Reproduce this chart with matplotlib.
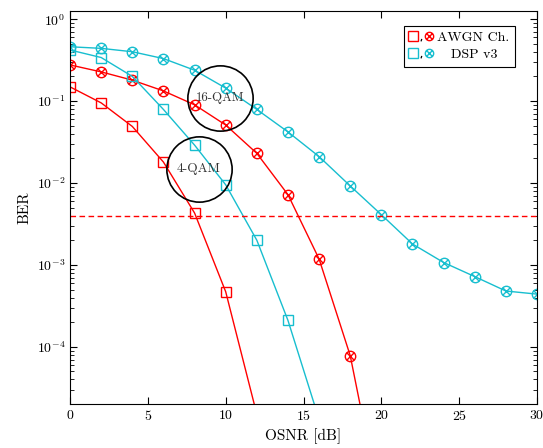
import numpy as np
import matplotlib
matplotlib.use('Agg')
import matplotlib.pyplot as plt
from matplotlib.path import Path
from matplotlib.legend_handler import HandlerTuple
from matplotlib.lines import Line2D

plt.rcParams['font.family'] = 'cmr10'
plt.rcParams['mathtext.fontset'] = 'cm'
plt.rcParams['axes.formatter.use_mathtext'] = True

# data
osnr = [0, 2, 4, 6, 8, 10, 12, 14, 16, 18, 20, 22, 24, 26, 28, 30]

awgn_4qam_x = [0, 2, 4, 6, 8, 10, 12]
awgn_4qam = [0.149, 0.095, 0.049, 0.018, 0.0043, 4.7e-4, 1.5e-5]

awgn_16qam_x = [0, 2, 4, 6, 8, 10, 12, 14, 16, 18, 20]
awgn_16qam = [0.276, 0.227, 0.18, 0.133, 0.09, 0.051, 0.023, 0.0072, 1.18e-3, 7.8e-5, 1e-6]

dsp_4qam_x = [0, 2, 4, 6, 8, 10, 12, 14, 16]
dsp_4qam = [0.42, 0.34, 0.2, 0.079, 0.029, 0.0095, 0.002, 2.1e-4, 1.3e-5]

dsp_16qam = [0.46, 0.44, 0.40, 0.33, 0.238, 0.144, 0.079, 0.042, 0.021, 0.0092,
             0.0041, 0.0018, 1.07e-3, 7.2e-4, 4.8e-4, 4.4e-4]

fec_limit = 4e-3

red = '#ff0000'
cyan = '#17becf'

# circle with an x inside
_c = Path.unit_circle()
_d = 0.7071
otimes = Path.make_compound_path(
    _c,
    Path([(-_d, -_d), (_d, _d)], [Path.MOVETO, Path.LINETO]),
    Path([(-_d, _d), (_d, -_d)], [Path.MOVETO, Path.LINETO]),
)
# little comma sitting on the baseline
comma_path = Path([(0.06, -0.5), (-0.1, -1.0)], [Path.MOVETO, Path.LINETO])

fig = plt.figure(figsize=(5.43, 4.48), dpi=100)
ax = fig.add_axes([0.129, 0.098, 0.860, 0.877])

mk = dict(markersize=7.5, markerfacecolor='none', markeredgewidth=1.0, linewidth=1.0)
ax.plot(awgn_4qam_x, awgn_4qam, color=red, marker='s', **mk)
ax.plot(awgn_16qam_x, awgn_16qam, color=red, marker=otimes, **mk)
ax.plot(dsp_4qam_x, dsp_4qam, color=cyan, marker='s', **mk)
ax.plot(osnr, dsp_16qam, color=cyan, marker=otimes, **mk)

ax.axhline(fec_limit, color=red, linestyle='--', linewidth=1.0, dashes=(4, 2.5))

# annotation circles
ax.plot([9.66], [0.109], marker='o', markersize=47, markerfacecolor='none',
        markeredgecolor='black', markeredgewidth=1.2, linestyle='none')
ax.plot([8.27], [0.0149], marker='o', markersize=47, markerfacecolor='none',
        markeredgecolor='black', markeredgewidth=1.2, linestyle='none')
ax.text(9.66, 0.109, '16-QAM', ha='center', va='center', fontsize=9.3, color='#333333')
ax.text(8.27, 0.0149, '4-QAM', ha='center', va='center', fontsize=9.6, color='#333333')

ax.set_yscale('log')
ax.set_xlim(0, 30)
ax.set_ylim(2e-5, 1.25)
ax.set_xticks([0, 5, 10, 15, 20, 25, 30])
ax.set_yticks([1, 1e-1, 1e-2, 1e-3, 1e-4])
ax.tick_params(which='both', direction='in', top=True, right=True, labelsize=10)
ax.tick_params(which='major', length=5)
ax.tick_params(which='minor', length=3)
ax.set_xlabel('OSNR [dB]', fontsize=11)
ax.set_ylabel('BER', fontsize=11)


def legend_handle(color):
    sq = Line2D([], [], color=color, marker='s', linestyle='none', markersize=6.5,
                markerfacecolor='none', markeredgewidth=1.0)
    comma = Line2D([], [], color='black', marker=comma_path, linestyle='none',
                   markersize=7, markeredgewidth=0.9)
    ox = Line2D([], [], color=color, marker=otimes, linestyle='none', markersize=6,
                markerfacecolor='none', markeredgewidth=1.0)
    return (sq, comma, ox)


leg = ax.legend([legend_handle(red), legend_handle(cyan)], ['AWGN Ch.', '   DSP v3'],
                loc='upper right',
                handler_map={tuple: HandlerTuple(ndivide=None, pad=0.0)},
                handlelength=1.7, handletextpad=0.3, fancybox=False, edgecolor='black',
                framealpha=1, fontsize=10, borderpad=0.4, labelspacing=0.3,
                bbox_to_anchor=(0.968, 0.98))
leg.get_frame().set_linewidth(0.8)

fig.savefig('out.png', dpi=100)
